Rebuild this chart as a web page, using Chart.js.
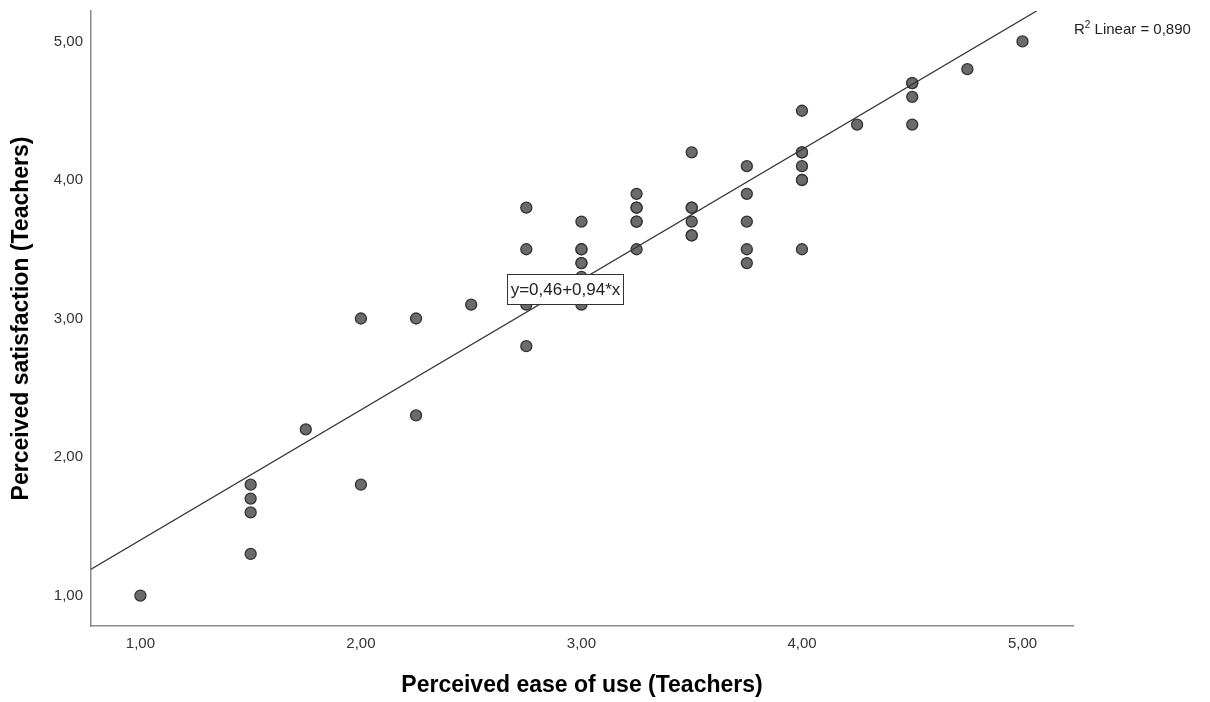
<!DOCTYPE html>
<html>
<head>
<meta charset="utf-8">
<script src="https://cdn.jsdelivr.net/npm/chart.js@4"></script>
<style>
  html, body { margin: 0; padding: 0; background: #fff; }
  #wrap { width: 1210px; height: 702px; }
</style>
</head>
<body>
<div id="wrap"><canvas id="chart" width="1210" height="702"></canvas></div>
<script>
// Perceived ease of use (x) vs perceived satisfaction (y), teachers
const easeOfUse = [
  1.00,
  1.50, 1.50, 1.50, 1.50,
  1.75,
  2.00, 2.00,
  2.25, 2.25,
  2.50,
  2.75, 2.75, 2.75, 2.75,
  3.00, 3.00, 3.00, 3.00, 3.00, 3.00, 3.00,
  3.25, 3.25, 3.25, 3.25, 3.25, 3.25,
  3.50, 3.50, 3.50, 3.50, 3.50, 3.50,
  3.75, 3.75, 3.75, 3.75, 3.75,
  4.00, 4.00, 4.00, 4.00, 4.00, 4.00, 4.00,
  4.25,
  4.50, 4.50, 4.50, 4.50,
  4.75,
  5.00
];
const satisfaction = [
  1.00,
  1.80, 1.70, 1.60, 1.30,
  2.20,
  3.00, 1.80,
  3.00, 2.30,
  3.10,
  3.80, 3.50, 3.10, 2.80,
  3.70, 3.50, 3.50, 3.40, 3.40, 3.30, 3.10,
  3.90, 3.80, 3.80, 3.70, 3.70, 3.50,
  4.20, 3.80, 3.80, 3.70, 3.60, 3.60,
  4.10, 3.90, 3.70, 3.50, 3.40,
  4.50, 4.20, 4.20, 4.10, 4.00, 4.00, 3.50,
  4.40,
  4.70, 4.70, 4.60, 4.40,
  4.80,
  5.00
];
const tickValues = [1, 2, 3, 4, 5];
const intercept = 0.46;
const slope = 0.94;
const rSquared = 0.890;

const X_MIN = 0.776, X_MAX = 5.229;
const Y_MIN = 0.78, Y_MAX = 5.22;

const FONT = '"Liberation Sans", Arial, sans-serif';
const comma = v => v.toFixed(2).replace('.', ',');

const points = easeOfUse.map((x, i) => ({ x: x, y: satisfaction[i] }));

// fit line, clipped at the top of the plot
const xTop = Math.min((Y_MAX - intercept) / slope, X_MAX);
const fitLine = [
  { x: X_MIN, y: intercept + slope * X_MIN },
  { x: xTop, y: intercept + slope * xTop }
];

const labelsPlugin = {
  id: 'labels',
  afterDatasetsDraw(chart) {
    const { ctx, chartArea, scales } = chart;
    ctx.save();

    // equation box
    const text = 'y=' + comma(intercept) + '+' + comma(slope) + '*x';
    ctx.font = '17px ' + FONT;
    const w = Math.round(ctx.measureText(text).width + 6);
    const h = 30;
    const cx = scales.x.getPixelForValue(2.925);
    const cy = scales.y.getPixelForValue(3.21);
    const bx = Math.round(cx - w / 2), by = Math.round(cy - h / 2);
    ctx.fillStyle = '#fff';
    ctx.fillRect(bx, by, w, h);
    ctx.strokeStyle = '#333';
    ctx.lineWidth = 1;
    ctx.strokeRect(bx + 0.5, by + 0.5, w, h);
    ctx.fillStyle = '#222';
    ctx.textAlign = 'center';
    ctx.textBaseline = 'middle';
    ctx.fillText(text, bx + w / 2 + 0.5, by + h / 2 + 1.5);

    // R² note to the right of the plot
    let x = chartArea.right + 1;
    const y = chartArea.top + 23;
    ctx.textAlign = 'left';
    ctx.textBaseline = 'alphabetic';
    ctx.font = '15px ' + FONT;
    ctx.fillText('R', x, y);
    x += ctx.measureText('R').width;
    ctx.font = '10px ' + FONT;
    ctx.fillText('2', x, y - 6);
    x += ctx.measureText('2').width;
    ctx.font = '15px ' + FONT;
    ctx.fillText(' Linear = ' + rSquared.toFixed(3).replace('.', ','), x, y);

    ctx.restore();
  }
};

new Chart(document.getElementById('chart'), {
  type: 'scatter',
  data: {
    datasets: [
      {
        label: 'Fit',
        type: 'line',
        data: fitLine,
        borderColor: '#333',
        borderWidth: 1.3,
        pointRadius: 0,
        fill: false,
        order: 0
      },
      {
        label: 'Teachers',
        data: points,
        backgroundColor: '#6b6b6b',
        borderColor: '#333',
        borderWidth: 1.3,
        pointRadius: 5.5,
        order: 1
      }
    ]
  },
  options: {
    responsive: false,
    animation: false,
    layout: { padding: { left: 0, right: 137, top: 11, bottom: 0 } },
    plugins: {
      legend: { display: false },
      tooltip: { enabled: false }
    },
    scales: {
      x: {
        type: 'linear',
        min: X_MIN,
        max: X_MAX,
        afterBuildTicks: s => { s.ticks = tickValues.map(v => ({ value: v })); },
        afterFit: s => { s.height = 76; s.paddingLeft = 0; s.paddingRight = 0; },
        grid: { display: false, drawTicks: false },
        border: { display: true, color: '#8a8a8a', width: 1.5 },
        ticks: {
          padding: 9,
          color: '#333',
          font: { family: FONT, size: 15 },
          callback: v => comma(v)
        },
        title: {
          display: true,
          text: 'Perceived ease of use (Teachers)',
          color: '#000',
          font: { family: FONT, size: 23, weight: 'bold' },
          padding: { top: 0, bottom: 3 }
        }
      },
      y: {
        type: 'linear',
        min: Y_MIN,
        max: Y_MAX,
        afterBuildTicks: s => { s.ticks = tickValues.map(v => ({ value: v })); },
        afterFit: s => { s.width = 91; s.paddingTop = 0; s.paddingBottom = 0; },
        grid: { display: false, drawTicks: false },
        border: { display: true, color: '#8a8a8a', width: 1.5 },
        ticks: {
          padding: 8,
          color: '#333',
          font: { family: FONT, size: 15 },
          callback: v => comma(v)
        },
        title: {
          display: true,
          text: 'Perceived satisfaction (Teachers)',
          color: '#000',
          font: { family: FONT, size: 23, weight: 'bold' },
          padding: { top: 8, bottom: 0 }
        }
      }
    }
  },
  plugins: [labelsPlugin]
});
</script>
</body>
</html>
